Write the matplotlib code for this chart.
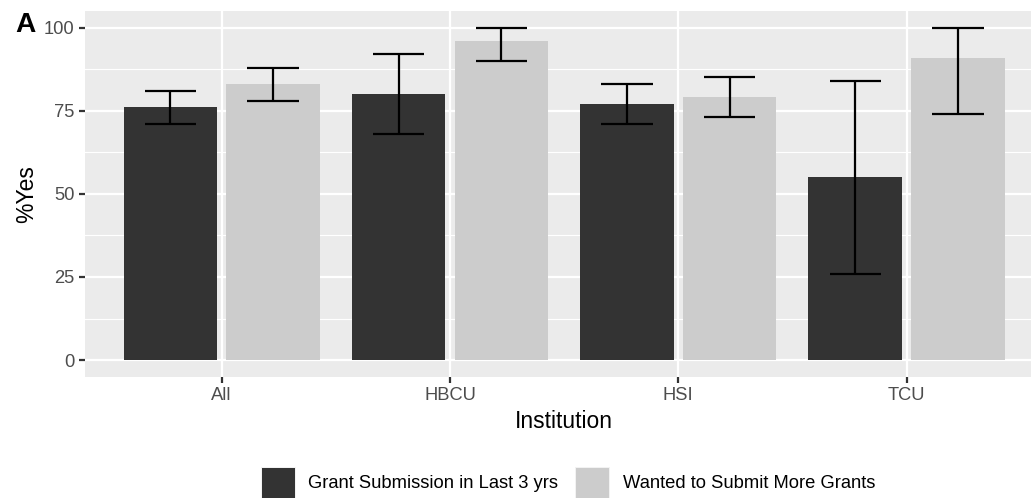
import matplotlib
matplotlib.use("Agg")
import matplotlib.pyplot as plt
from matplotlib.patches import Rectangle
import numpy as np

# ---- data ----
institutions = ["All", "HBCU", "HSI", "TCU"]
series_names = ["Grant Submission in Last 3 yrs", "Wanted to Submit More Grants"]
grant_submission = [76, 80, 77, 55]
grant_lo = [71, 68, 71, 26]
grant_hi = [81, 92, 83, 84]
wanted_more = [83, 96, 79, 91]
wanted_lo = [78, 90, 73, 74]
wanted_hi = [88, 100, 85, 100]
y_ticks = [0, 25, 50, 75, 100]

colors = ["#333333", "#CCCCCC"]
W, H, DPI = 1031, 498, 150
plt.rcParams['font.family'] = ['Liberation Sans', 'DejaVu Sans']

fig = plt.figure(figsize=(W / DPI, H / DPI), dpi=DPI)
fig.patch.set_facecolor("white")

def px_to_fig(x0, y0_top, w, h):
    return [x0 / W, (H - y0_top - h) / H, w / W, h / H]

ax = fig.add_axes(px_to_fig(84.7, 11, 958.9, 365.7))
ax.set_facecolor("#EBEBEB")
for s in ax.spines.values():
    s.set_visible(False)

x = np.arange(1, len(institutions) + 1)
offset = 0.225
bw = 0.41
capw = 0.112

series = [
    (grant_submission, grant_lo, grant_hi, -offset, colors[0]),
    (wanted_more, wanted_lo, wanted_hi, offset, colors[1]),
]
for vals, lo, hi, off, c in series:
    xs = x + off
    ax.bar(xs, vals, width=bw, color=c, zorder=3, linewidth=0)
    ax.vlines(xs, lo, hi, color="black", linewidth=1.07, zorder=4)
    ax.hlines(lo, xs - capw, xs + capw, color="black", linewidth=1.07, zorder=4)
    ax.hlines(hi, xs - capw, xs + capw, color="black", linewidth=1.07, zorder=4)

ax.set_xlim(0.4, len(institutions) + 0.6)
ax.set_ylim(-5, 105)
ax.set_xticks(x)
ax.set_xticklabels(institutions)
ax.set_yticks(y_ticks)
ax.set_yticklabels([str(v) for v in y_ticks])
ax.set_yticks([12.5, 37.5, 62.5, 87.5], minor=True)
ax.grid(which="major", color="white", linewidth=1.07, zorder=0)
ax.grid(which="minor", axis="y", color="white", linewidth=0.53, zorder=0)
ax.set_axisbelow(True)
ax.tick_params(which="major", length=2.75, width=1.07, color="#333333",
               labelcolor="#4D4D4D", labelsize=8.8, pad=2.2)
ax.tick_params(which="minor", length=0)

ax.set_xlabel("Institution", fontsize=11, color="black", labelpad=2.75)
ax.set_ylabel("%Yes", fontsize=11, color="black", labelpad=2.75)

# panel tag
fig.text(15 / W, 1 - 12 / H, "A", fontsize=13.5, fontweight="bold", va="top", ha="left")

# legend (bottom, horizontal)
key_w = 35
key_h = 34
key_top = 466.5
legend_items = [(261, 308), (575, 623)]
for (kx, tx), name, c in zip(legend_items, series_names, colors):
    fig.patches.append(Rectangle((kx / W, (H - key_top - key_h) / H), key_w / W, key_h / H,
                                 transform=fig.transFigure, facecolor="#F2F2F2",
                                 edgecolor="none"))
    fig.patches.append(Rectangle(((kx + 1) / W, (H - key_top - key_h + 1) / H),
                                 (key_w - 2) / W, (key_h - 2) / H,
                                 transform=fig.transFigure, facecolor=c, edgecolor="none"))
    fig.text(tx / W, 1 - 483 / H, name, fontsize=8.8, va="center", ha="left", color="black")

fig.savefig("out.png", dpi=DPI)
